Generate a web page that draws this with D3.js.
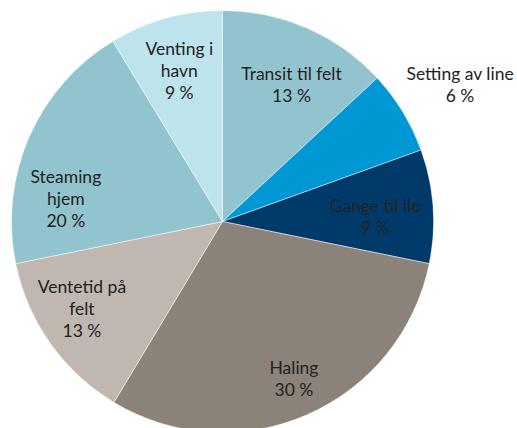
<!DOCTYPE html>
<html lang="no">
<head>
<meta charset="UTF-8">
<title>Tidsbruk</title>
<style>
html, body { margin: 0; padding: 0; background: #fff; }
#chart { width: 517px; height: 428px; overflow: hidden; }
.label text { font-family: Lato, "Open Sans", sans-serif; font-size: 17.5px; fill: #222; }
</style>
<script src="https://cdn.jsdelivr.net/npm/d3@7/dist/d3.min.js"></script>
</head>
<body>
<div id="chart"></div>
<script>
// data (andel av tid, %)
var categories = ["Transit til felt", "Setting av line", "Gange til ile", "Haling", "Ventetid på\nfelt", "Steaming\nhjem", "Venting i\nhavn"];
var shares = [13.1, 6.4, 8.7, 30.4, 13.2, 19.5, 8.7];
var colors = ["#92c4cf", "#0098d4", "#003a6b", "#8b8279", "#c0b8b0", "#92c4cf", "#bde3ec"];

//layout
var width = 517, height = 428;
var cx = 222.5, cy = 221.5, radius = 211;
var labelRadius = 160;
// small nudges so labels sit like in the original
var nudge = [[5, 10], [3.5, 6], [-7, 7], [7, 11], [-10, -5], [-10, 42], [0, 4]];
var outside = [false, true, false, false, false, false, false];
var lineHeight = 22;

var svg = d3.select("#chart")
            .append("svg")
            .attr("width", width)
            .attr("height", height);

var g = svg.append("g")
           .attr("transform", "translate(" + cx + "," + cy + ")");

var pie = d3.pie().sort(null).value(function(d) { return d; });
var arcs = pie(shares);

var arc = d3.arc().innerRadius(0).outerRadius(radius);
var labelArc = d3.arc().innerRadius(labelRadius).outerRadius(labelRadius);
var outerArc = d3.arc().innerRadius(radius + 63).outerRadius(radius + 63);

g.selectAll("path")
 .data(arcs)
 .enter()
 .append("path")
 .attr("d", arc)
 .attr("fill", function(d, i) { return colors[i]; })
 .attr("stroke", "#ffffff")
 .attr("stroke-opacity", 0.6)
 .attr("stroke-width", 0.8);

var label = g.selectAll(".label")
             .data(arcs)
             .enter()
             .append("g")
             .attr("class", "label")
             .attr("transform", function(d, i) {
               var p = outside[i] ? outerArc.centroid(d) : labelArc.centroid(d);
               return "translate(" + (p[0] + nudge[i][0]) + "," + (p[1] + nudge[i][1]) + ")";
             });

label.each(function(d, i) {
  var lines = categories[i].split("\n").concat([Math.round(shares[i]) + " %"]);
  var t = d3.select(this).append("text").attr("text-anchor", "middle");
  var y0 = -(lines.length - 1) * lineHeight / 2 + 6;
  lines.forEach(function(s, k) {
    t.append("tspan").attr("x", 0).attr("y", y0 + k * lineHeight).text(s);
  });
});
</script>
</body>
</html>
